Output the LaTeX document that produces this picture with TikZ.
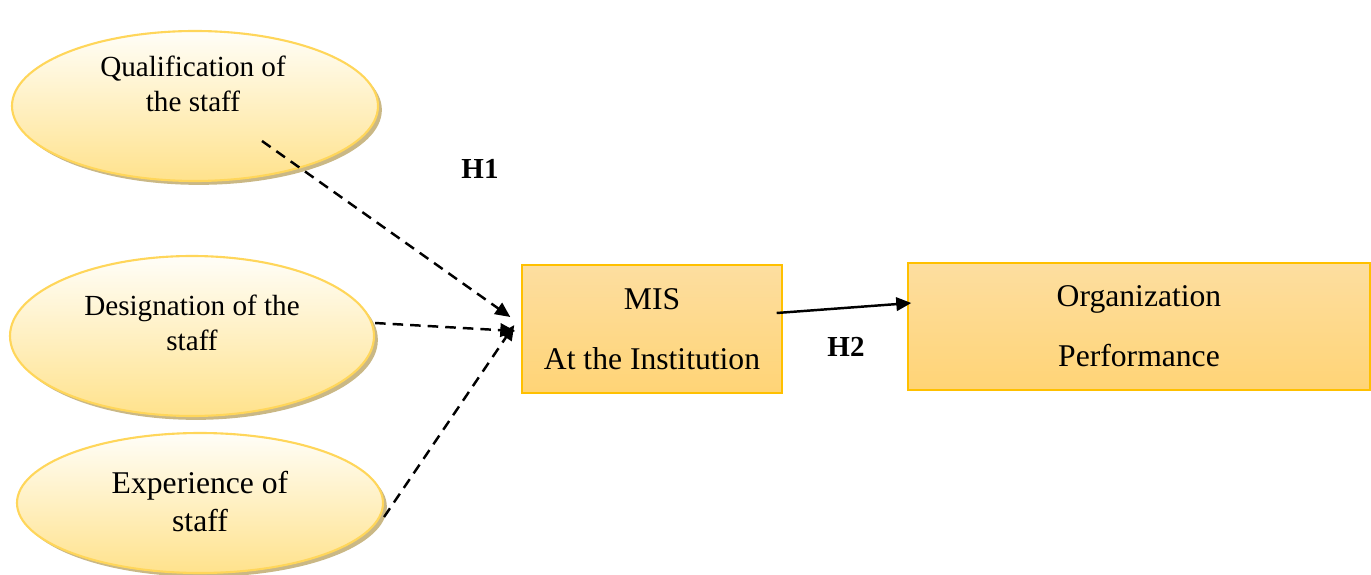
\documentclass[tikz,border=0pt]{standalone}
\usepackage{xcolor}
\usepackage{fontspec}
\setmainfont{Liberation Serif}
\usetikzlibrary{shapes.geometric, arrows.meta, shadows}

\definecolor{ellborder}{RGB}{255,214,90}
\definecolor{elltop}{RGB}{255,254,248}
\definecolor{ellbottom}{RGB}{255,226,140}
\definecolor{boxborder}{RGB}{255,192,0}
\definecolor{boxtop}{RGB}{253,222,160}
\definecolor{boxbottom}{RGB}{255,212,118}
\definecolor{shadowtan}{RGB}{196,176,120}

\begin{document}
\begin{tikzpicture}
    % Define styles
    \tikzstyle{factor} = [ellipse, draw=ellborder, line width=1.2pt, top color=elltop, bottom color=ellbottom, drop shadow={shadow xshift=2.2pt, shadow yshift=-2.2pt, fill=shadowtan, opacity=0.9}]
    \tikzstyle{factortext} = [align=center, font=\fontsize{16.6}{20}\selectfont]
    \tikzstyle{outcome} = [rectangle, draw=boxborder, line width=0.8pt, top color=boxtop, bottom color=boxbottom, align=center, font=\fontsize{18}{34}\selectfont]
    \tikzstyle{hyp} = [font=\fontsize{16.5}{20}\selectfont\bfseries]
    \tikzstyle{dasharrow} = [-{Triangle[length=3mm, width=2.7mm]}, line width=1.4pt, dash pattern=on 6pt off 4pt]
    \tikzstyle{arrow} = [-{Triangle[length=3mm, width=2.7mm]}, line width=1.4pt]

    \useasboundingbox (0,0) rectangle (27.42,11.48);

    % Factors
    \node[factor, minimum width=7.32cm, minimum height=3.0cm] (qual) at (3.90, 9.36) {};
    \node[factor, minimum width=7.28cm, minimum height=3.2cm] (desig) at (3.84, 4.76) {};
    \node[factor, minimum width=7.32cm, minimum height=2.8cm] (exp) at (4.00, 1.42) {};
    \node[factortext] (qualtext) at (3.86, 9.80) {Qualification of\\the staff};
    \node[factortext] (desigtext) at (3.84, 5.02) {Designation of the\\staff};
    \node[factortext, font=\fontsize{18}{21.5}\selectfont] (exptext) at (4.00, 1.45) {Experience of\\staff};

    % Boxes
    \node[outcome, minimum width=5.2cm, minimum height=2.56cm] (mis) at (13.04, 4.90) {MIS\\At the Institution};
    \node[outcome, minimum width=9.24cm, minimum height=2.54cm] (org) at (22.78, 4.95) {Organization\\Performance};

    % Hypothesis labels
    \node[hyp] (h1) at (9.60, 8.10) {H1};
    \node[hyp] (h2) at (16.92, 4.54) {H2};

    % Arrow ends
    \coordinate (hub1) at ([xshift=-0.22cm, yshift=0.24cm]mis.west);
    \coordinate (hub2) at ([xshift=-0.12cm, yshift=-0.04cm]mis.west);
    \coordinate (hub3) at ([xshift=-0.14cm, yshift=0.08cm]mis.west);

    % Arrows
    \draw[dasharrow] ([xshift=1.34cm, yshift=-0.70cm]qual.center) -- (hub1);
    \draw[dasharrow] ([yshift=0.26cm]desig.east) -- (hub2);
    \draw[dasharrow] ([yshift=-0.28cm]exp.east) -- (hub3);
    \draw[arrow] ([xshift=-0.12cm, yshift=0.32cm]mis.east) -- ([xshift=0.08cm, yshift=0.47cm]org.west);

\end{tikzpicture}
\end{document}
